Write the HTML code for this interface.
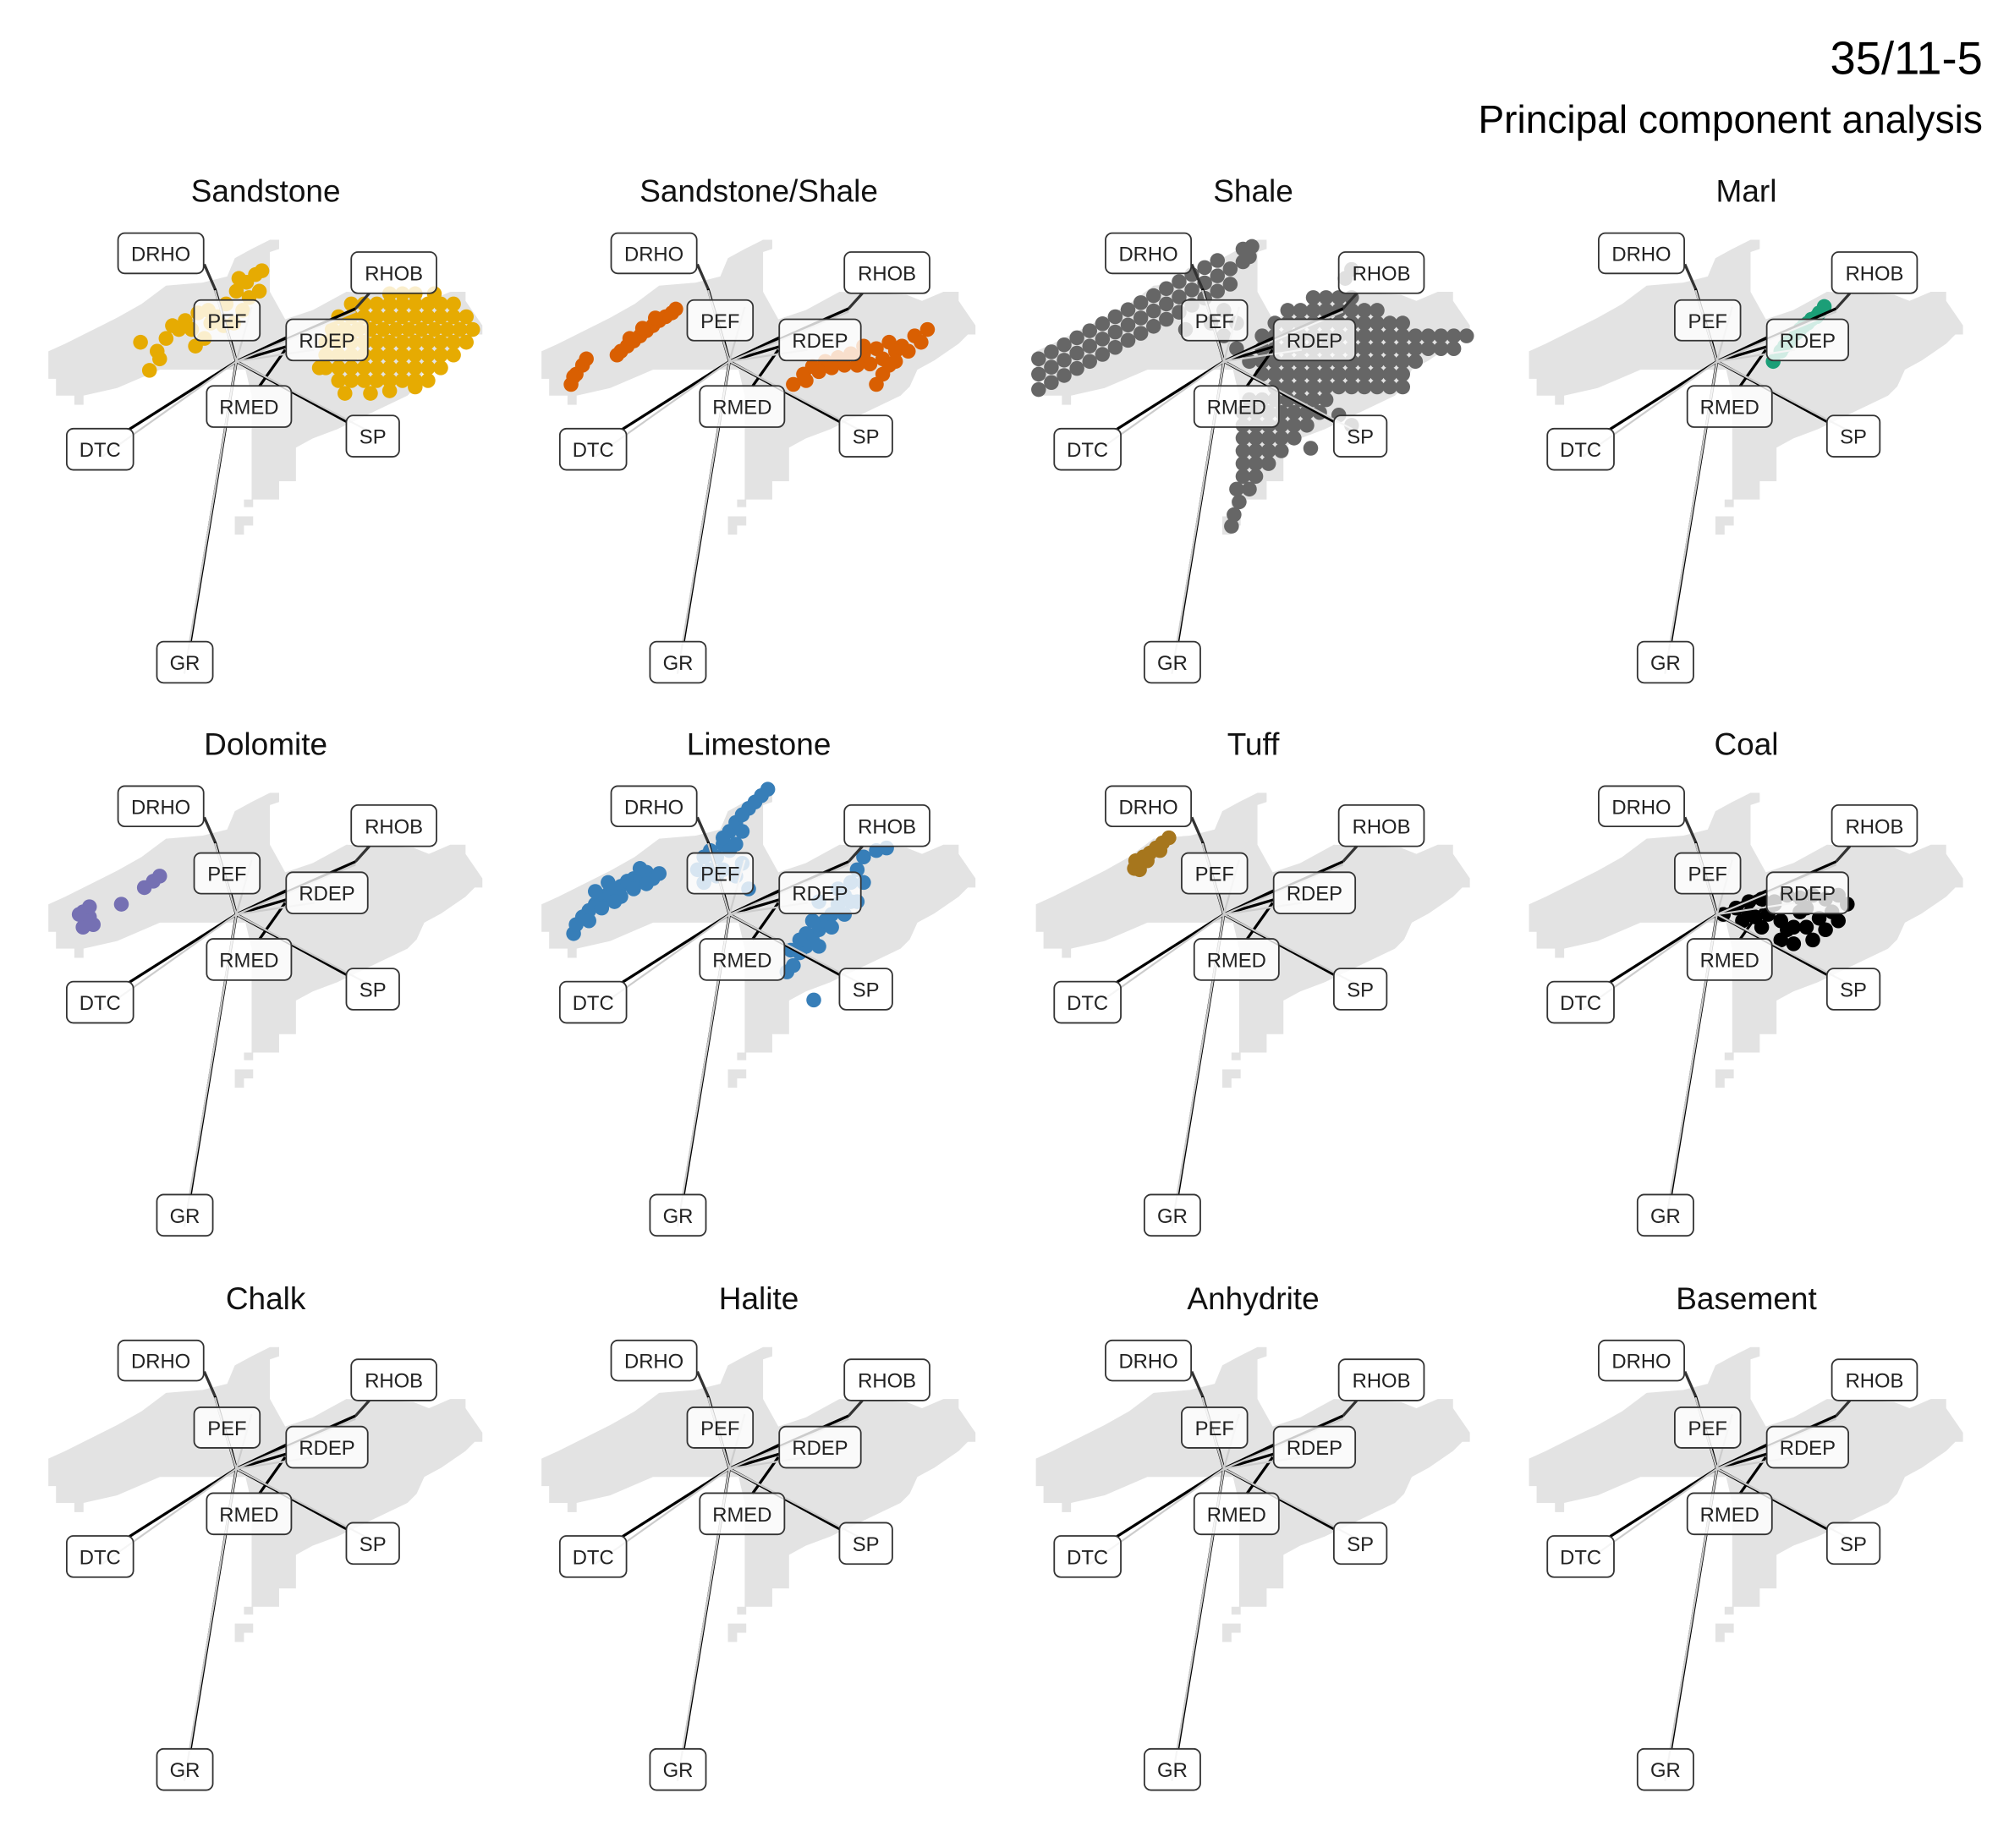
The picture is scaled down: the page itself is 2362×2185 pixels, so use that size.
<!DOCTYPE html>
<html><head><meta charset="utf-8"><style>
html,body{margin:0;padding:0;background:#fff;}
svg{display:block;}
text{font-family:"Liberation Sans",sans-serif;}
</style></head><body>
<svg id="chart" xmlns="http://www.w3.org/2000/svg" width="2362" height="2185" viewBox="0 0 1564 1447" preserveAspectRatio="none">
<defs>
<marker id="ah" viewBox="0 0 10 10" refX="9" refY="5" markerWidth="7" markerHeight="7" orient="auto" markerUnits="userSpaceOnUse"><path d="M0,0 L10,5 L0,10" fill="none" stroke="#000" stroke-width="2"/></marker>
<marker id="ahg" viewBox="0 0 10 10" refX="9" refY="5" markerWidth="7" markerHeight="7" orient="auto" markerUnits="userSpaceOnUse"><path d="M0,0 L10,5 L0,10" fill="none" stroke="#c8c8c8" stroke-width="2"/></marker>
</defs>
<text x="1552" y="58" text-anchor="end" font-size="36" fill="#000">35/11-5</text>
<text x="1552" y="104" text-anchor="end" font-size="30.5" fill="#000">Principal component analysis</text>
<g id="panels"></g>
</svg>
<script>
// Lithology panels
const lithNames = ["Sandstone","Sandstone/Shale","Shale","Marl","Dolomite","Limestone","Tuff","Coal","Chalk","Halite","Anhydrite","Basement"];
const lithColors = ["#E6AB02","#D95F02","#666666","#1B9E77","#7570B3","#377EB8","#A6761D","#000000","#000","#000","#000","#000"];
// PC scores per lithology as [PC1, PC2] pairs
const sandstonePts = [
[12,5.3],[13,5.3],[14,5.3],[15.5,5.3],
[9,4.5],[10,4.5],[11,4.5],[12,4.5],[13,4.5],[14,4.5],[15,4.5],[16,4.5],[17,4.5],
[8,3.5],[9,3.5],[10,3.5],[11,3.5],[12,3.5],[13,3.5],[14,3.5],[15,3.5],[16,3.5],[17,3.5],[18,3.5],
[7.5,2.5],[8.5,2.5],[9.5,2.5],[10.5,2.5],[11.5,2.5],[12.5,2.5],[13.5,2.5],[14.5,2.5],[15.5,2.5],[16.5,2.5],[17.5,2.5],[18.5,2.5],
[7,1.5],[8,1.5],[9,1.5],[10,1.5],[11,1.5],[12,1.5],[13,1.5],[14,1.5],[15,1.5],[16,1.5],[17,1.5],[18,1.5],
[7,0.5],[8,0.5],[9,0.5],[10,0.5],[11,0.5],[12,0.5],[13,0.5],[14,0.5],[15,0.5],[16,0.5],[17,0.5],
[7,-0.5],[8,-0.5],[9,-0.5],[10,-0.5],[11,-0.5],[12,-0.5],[13,-0.5],[14,-0.5],[15,-0.5],[16,-0.5],
[8,-1.5],[9,-1.5],[10,-1.5],[11,-1.5],[12,-1.5],[13,-1.5],[14,-1.5],[15,-1.5],
[8.5,-2.5],[10.5,-2.5],[12,-2.3],[14,-2],[6.5,-0.5],
[-6.8,-0.7],[-6.2,0.8],[-7.5,1.5],[-5.5,1.8],[-4.5,2.5],[-4,3.2],[-3,3.8],[-2.2,4],[-1.5,3.5],[-0.8,4.5],[0,5.5],[0.8,6.2],[1.5,6.8],[2,7.1],[-0.2,3],[0.5,4],[1.8,5.5],[-3.5,2.5],[-1,2.8],[-2.5,1.8],[-3.2,1.2],[-6,0.2],[1,5],[0.2,6.5],[-2,3],[-5,2.8]];
const sandShalePts = [[-12.4,-1.8],[-12,-1],[-11.5,-0.3],[-11.2,0.2],[-12.2,-1.2],[-8.5,0.8],[-8,1.2],[-7.5,1.6],[-7,2],[-6.5,2.4],[-6,2.8],[-5.5,3.2],[-5,3.5],[-4.5,3.8],[-4.2,4.1],[-8.8,0.5],[-7.8,1.8],[-6.8,2.6],[-5.8,3.4],
[5,-1.8],[5.8,-1],[6.5,-0.4],[7.5,0],[8.5,0.3],[9.5,0.6],[10.5,0.6],[11.5,1],[12.5,1.5],[13.5,1.2],[14.5,2],[15.5,2.5],[11,-0.2],[12,0.2],[13,0.8],[12,-1],[11.5,-1.8],[9,-0.3],[14,0.8],[15,1.5],[6,-1.5],[7,-0.8],[8,-0.5],[10,-0.3],[13,0],[10.5,1.2],[12.5,-0.3]];
const shalePts = [
[-14.5,-2.2],[-14.5,-1],[-14.5,0.2],[-13.5,-1.65],[-13.5,-0.45],[-13.5,0.75],[-12.5,-1.1],[-12.5,0.1],[-12.5,1.3],[-11.5,-0.55],[-11.5,0.65],[-11.5,1.85],[-10.5,0],[-10.5,1.2],[-10.5,2.4],[-9.5,0.55],[-9.5,1.75],[-9.5,2.95],[-8.5,1.1],[-8.5,2.3],[-8.5,3.5],[-7.5,1.65],[-7.5,2.85],[-7.5,4.05],[-6.5,2.2],[-6.5,3.4],[-6.5,4.6],[-5.5,2.75],[-5.5,3.95],[-5.5,5.15],[-4.5,3.3],[-4.5,4.5],[-4.5,5.7],[-3.5,3.85],[-3.5,5.05],[-3.5,6.25],[-2.5,4.4],[-2.5,5.6],[-2.5,6.8],[-1.5,4.95],[-1.5,6.15],[-1.5,7.35],[-0.5,5.5],[-0.5,6.7],[-0.5,7.9],[0.5,6.05],[0.5,7.25],[1.5,7.8],[1.5,8.8],[2,8.2],[2.2,9],
[-1,3],[0,2],[1,1],[2,0],[-3,2.5],[0,4],[1,3],
[7,5],[8,5],[9,5],[10,5],[9.5,6.5],[10,7.2],
[5,4],[6,4],[7,4],[8,4],[9,4],[10,4],[11,4],[12,4],
[4,3],[5,3],[6,3],[7,3],[8,3],[9,3],[10,3],[11,3],[12,3],[13,3],[14,3],
[3,2],[4,2],[5,2],[6,2],[7,2],[8,2],[9,2],[10,2],[11,2],[12,2],[13,2],[14,2],[15,2],[16,2],[17,2],[18,2],[19,2],
[3,1],[4,1],[5,1],[6,1],[7,1],[8,1],[9,1],[10,1],[11,1],[12,1],[13,1],[14,1],[15,1],[16,1],[17,1],[18,1],
[3,0],[4,0],[5,0],[6,0],[7,0],[8,0],[9,0],[10,0],[11,0],[12,0],[13,0],[14,0],[15,0],
[3,-1],[4,-1],[5,-1],[6,-1],[7,-1],[8,-1],[9,-1],[10,-1],[11,-1],[12,-1],[13,-1],[14,-1],
[4,-2],[5,-2],[6,-2],[7,-2],[8,-2],[9,-2],[10,-2],[11,-2],[12,-2],[13,-2],[14,-2],
[2,-3],[3,-3],[4,-3],[5,-3],[6,-3],[7,-3],[8,-3],
[1.5,-4],[2.5,-4],[3.5,-4],[4.5,-4],[5.5,-4],[6.5,-4],[7.5,-4],[9,-4.2],
[1.5,-5],[2.5,-5],[3.5,-5],[4.5,-5],[5.5,-5],[6.5,-5],[10,-5],
[1.5,-6],[2.5,-6],[3.5,-6],[4.5,-6],[5.5,-6],
[1.5,-7],[2.5,-7],[3.5,-7],[4.5,-7],[6.8,-6.8],
[1.5,-8],[2.5,-8],[3.5,-8],[1.5,-9],[2.5,-9],[1,-10],[2,-10],[1.2,-11],[0.8,-12],[0.6,-12.9]];
const marlPts = [[4.4,0],[5,0.8],[5.6,1.5],[6.2,2.2],[6.8,2.8],[7.4,3.3],[8,3.8],[8.4,4.3],[7.8,3.5],[6.5,2.5],[5.3,1.2],[7.1,3]];
const dolomitePts = [[-12,0.2],[-11.5,-0.2],[-12,-1],[-11.2,-0.8],[-11.8,-0.3],[-9,0.8],[-7.2,2.1],[-6.5,2.6],[-6,3],[-11.5,0.6],[-12.3,0]];
const limestonePts = [[-12.2,-1.5],[-12,-0.8],[-11.5,-0.2],[-11,0.3],[-10.5,0.8],[-10,1.2],[-9.5,1.6],[-9,2],[-8.5,2.2],[-8,2.6],[-7.5,2.8],[-7,3],[-6.5,3.3],[-6,2.8],[-5.5,3.2],[-8.5,1.4],[-10,0.5],[-11,-0.5],[-9,1],[-7.5,2],[-6.5,2.4],[-10.5,1.8],[-9.5,2.5],[-7,3.6],
[-2,2.5],[-1.5,3.5],[-1,4.5],[-0.5,5.5],[0,6.5],[0.5,7.2],[1,7.8],[1.5,8.3],[2,8.8],[2.5,9.3],[3,9.8],[-2.5,3.5],[-1.5,5],[-0.5,6],[0.5,3],[1,4],[1.5,2],[0,5],[-0.5,3.5],[0.5,5.5],[1,6.5],[-2,4.5],[-1,3],
[4.5,-4.5],[5,-4],[5.5,-3],[6,-2.5],[6.5,-2],[7,-1.2],[7.5,-0.5],[8,0],[8.5,0.8],[9,1.5],[9.5,2.5],[10,3.5],[10.5,4.5],[11.5,5],[12.3,5.2],[7,1],[8.5,2],[10,1],[10.5,2.5],[6.6,-6.7],[4.8,-2.8],[6,-1.5],[5.5,-2],[7,-2.5],[8,-1],[9,0],[9.5,1],[6.5,-0.5]];
const tuffPts = [[-7,3.6],[-6.7,4],[-6.3,4.5],[-5.8,4.8],[-5.3,5.2],[-4.8,5.6],[-4.3,6],[-6.6,3.5],[-6,4.2],[-5,5],[-6.9,4.2]];
const coalPts = [[0.5,0],[1.5,0.5],[2.5,1],[3.5,1.2],[4.5,1],[5.5,1.5],[6.5,1.3],[7.5,1.5],[8.5,1.2],[9.5,1.5],[10.2,0.8],[2,-0.5],[3,-0.2],[4,0],[5,-0.5],[6,-1],[7,-1],[8,-0.3],[9,0.2],[5,-2],[6,-2.3],[5.5,-1.2],[4.5,0.8],[6.5,0.2],[7.5,-2],[3.5,-1],[2.5,0],[8.5,-1.2],[9.5,-0.5],[7,0.5]];
const scores = [sandstonePts,sandShalePts,shalePts,marlPts,dolomitePts,limestonePts,tuffPts,coalPts,[],[],[],[]];

const NS = "http://www.w3.org/2000/svg";
const colX = [185,571,958,1344];
const rowY = [283,716,1150];
const unit = 10;
function sx(v){ return v*unit; }
function sy(v){ return -v*unit; }

const K = 1/4.18;
const cloudPath = "M55,455 L110,430 L220,375 L280,345 L360,300 L440,240 L560,230 L640,210 L665,150 L720,120 L780,90 L810,90 L810,120 L780,130 L780,260 L830,350 L920,320 L1030,260 L1250,270 L1300,290 L1370,260 L1420,260 L1420,290 L1475,370 L1475,400 L1450,400 L1420,430 L1340,485 L1285,515 L1260,570 L1230,600 L1000,710 L920,740 L865,770 L865,880 L810,880 L810,940 L720,940 L720,600 L700,515 L560,515 L420,515 L280,575 L170,600 L170,630 L140,630 L140,600 L80,600 L80,545 L55,545 Z M695,940 L725,940 L725,965 L695,965 Z M665,995 L725,995 L725,1025 L695,1025 L695,1055 L665,1055 Z";
const labels = [["DRHO",283,68,563,200],["RHOB",1046,130,1325,265],["PEF",532,287,747,420],["RDEP",833,350,1100,485],["RMED",573,568,850,703],["DTC",115,708,333,843],["SP",1030,665,1203,800],["GR",410,1405,593,1540]];
const blackLines = [["drho",[[670,488],[600,250]],true,[[600,250],[565,170]]],["rhob",[[670,488],[1060,315]],true,[[1060,315],[1105,265]]],["pef",[[670,488],[652,420]],false,null],["rdep",[[670,488],[833,410]],false,null],["rdep2",[[670,488],[833,440]],false,null],["rmed",[[745,570],[830,450]],false,null],["dtc",[[670,488],[320,710]],false,null],["sp",[[670,488],[1030,685]],false,null],["gr",[[670,488],[520,1405]],false,null]];
const greyArrows = [[720,310],[925,450],[1060,325],[230,800],[1110,720],[500,1510],[600,255]];

const root = document.getElementById('panels');
for(let i=0;i<12;i++){
  const c=i%4, r=Math.floor(i/4);
  const ox=colX[c], oy=rowY[r];
  const g=document.createElementNS(NS,'g');
  
  
  root.appendChild(g);
  const t=document.createElementNS(NS,'text');
  
  
  t.setAttribute('x', ox+23); t.setAttribute('y', oy-125);
  t.setAttribute('text-anchor','middle'); t.setAttribute('font-size','24.5'); t.setAttribute('fill','#111');
  t.textContent=lithNames[i]; g.appendChild(t);
  const bg=document.createElementNS(NS,'g');
  bg.setAttribute('transform',`translate(${ox},${oy}) scale(${K}) translate(-670,-488)`);
  g.appendChild(bg);
  const cl=document.createElementNS(NS,'path');
  
  
  cl.setAttribute('d',cloudPath); cl.setAttribute('fill','#e3e3e3'); bg.appendChild(cl);
  const pg=document.createElementNS(NS,'g');
  
  
  g.appendChild(pg);
  const pts=scores[i];
  for(let k=0;k<pts.length;k++){
    const ci=document.createElementNS(NS,'circle');
    
    
    ci.setAttribute('cx', ox+sx(pts[k][0])); ci.setAttribute('cy', oy+sy(pts[k][1]));
    ci.setAttribute('r', 5.8); ci.setAttribute('fill', lithColors[i]);
    pg.appendChild(ci);
  }
  const ov=document.createElementNS(NS,'g');
  ov.setAttribute('transform',`translate(${ox},${oy}) scale(${K}) translate(-670,-488)`);
  g.appendChild(ov);
  blackLines.forEach(b=>{
    const l=document.createElementNS(NS,'line');
    
    
    l.setAttribute('x1',b[1][0][0]); l.setAttribute('y1',b[1][0][1]);
    l.setAttribute('x2',b[1][1][0]); l.setAttribute('y2',b[1][1][1]);
    l.setAttribute('stroke','#000'); l.setAttribute('stroke-width','9');
    if(b[2]) l.setAttribute('marker-end','url(#ah)');
    ov.appendChild(l);
    if(b[3]){
      const s=document.createElementNS(NS,'line');
      
      
      s.setAttribute('x1',b[3][0][0]); s.setAttribute('y1',b[3][0][1]);
      s.setAttribute('x2',b[3][1][0]); s.setAttribute('y2',b[3][1][1]);
      s.setAttribute('stroke','#333'); s.setAttribute('stroke-width','9');
      ov.appendChild(s);
    }
  });
  greyArrows.forEach(a=>{
    const l=document.createElementNS(NS,'line');
    
    
    l.setAttribute('x1',670); l.setAttribute('y1',488);
    l.setAttribute('x2',a[0]); l.setAttribute('y2',a[1]);
    l.setAttribute('stroke','#cccccc'); l.setAttribute('stroke-width','6');
    l.setAttribute('marker-end','url(#ahg)');
    ov.appendChild(l);
  });
  labels.forEach(lb=>{
    const rc=document.createElementNS(NS,'rect');
    
    
    rc.setAttribute('x',lb[1]); rc.setAttribute('y',lb[2]);
    rc.setAttribute('width',lb[3]-lb[1]); rc.setAttribute('height',lb[4]-lb[2]);
    rc.setAttribute('rx',22); rc.setAttribute('fill','rgba(255,255,255,0.8)');
    rc.setAttribute('stroke','#333'); rc.setAttribute('stroke-width','5');
    ov.appendChild(rc);
    const tx=document.createElementNS(NS,'text');
    
    
    tx.setAttribute('x',(lb[1]+lb[3])/2); tx.setAttribute('y',(lb[2]+lb[4])/2+25);
    tx.setAttribute('text-anchor','middle'); tx.setAttribute('font-size','66'); tx.setAttribute('fill','#222');
    tx.textContent=lb[0]; ov.appendChild(tx);
  });
}
</script>
</body></html>
